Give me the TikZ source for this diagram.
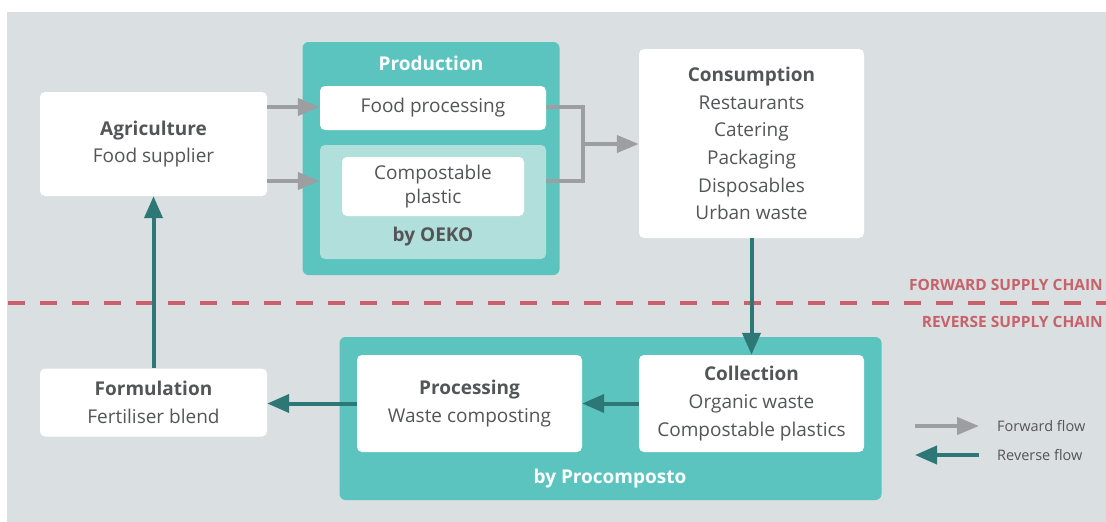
\documentclass[tikz,border=0pt]{standalone}
\usepackage{fontspec}
\setmainfont{Open Sans}
\usetikzlibrary{arrows.meta,positioning}
\definecolor{bggray}{HTML}{DADFE1}
\definecolor{tealmid}{HTML}{5BC4BF}
\definecolor{teallight}{HTML}{B1DFDC}
\definecolor{tealdark}{HTML}{2E7777}
\definecolor{arrgray}{HTML}{9C9EA1}
\definecolor{chainred}{HTML}{C8626A}
\definecolor{txtgray}{HTML}{545557}
\tikzset{
  card/.style={fill=white, rounded corners=5pt, align=center, text=txtgray, inner sep=0pt,
    font=\fontsize{19}{27.6}\selectfont},
  tealbox/.style={fill=tealmid, rounded corners=6pt, inner sep=0pt},
  boxtitle/.style={text=white, font=\fontsize{19}{22}\selectfont\bfseries},
  fwd/.style={draw=arrgray, line width=4pt, -{Triangle[length=22pt,width=17pt]}},
  fwdline/.style={draw=arrgray, line width=4pt},
  rev/.style={draw=tealdark, line width=4pt, -{Triangle[length=22pt,width=18pt]}},
  chain/.style={text=chainred, font=\fontsize{15.5}{18}\selectfont\bfseries, anchor=east, inner sep=0pt},
  legtext/.style={text=txtgray, font=\fontsize{14.5}{16}\selectfont, anchor=west, inner sep=0pt},
}

\begin{document}
\begin{tikzpicture}[x=1pt, y=-1pt]
	%%%%% BACKGROUND %%%%%
	\useasboundingbox (0,0) rectangle (1106,522);
	\fill[white] (0,0) rectangle (1106,522);
	\fill[bggray] (7,12) rectangle (1106,522);
	
	%%%%% FORWARD CHAIN %%%%%
	\node[card, minimum width=227pt, minimum height=104pt] (agri) at (153.5,144) {\textbf{Agriculture}\\Food supplier};
	
	\node[tealbox, minimum width=257pt, minimum height=233pt] (prod) at (431,158.5) {};
	\node[boxtitle] (prodtitle) at (431,63) {Production};
	\node[card, minimum width=226pt, minimum height=44pt] (food) at (433,108) {Food processing};
	\node[fill=teallight, rounded corners=5pt, minimum width=226pt, minimum height=114pt, inner sep=0pt] (oeko) at (433,202) {};
	\node[card, minimum width=182pt, minimum height=59pt, font=\fontsize{19}{23.5}\selectfont] (comp) at (433,186.5) {Compostable\\plastic};
	\node[text=txtgray, font=\fontsize{19}{22}\selectfont\bfseries] (oekotitle) at (433,237) {by OEKO};
	
	\node[card, minimum width=225pt, minimum height=189pt] (cons) at (751.5,143.5) {\textbf{Consumption}\\Restaurants\\Catering\\Packaging\\Disposables\\Urban waste};
	
	\coordinate (rowa) at (0,107);
	\coordinate (rowb) at (0,181);
	\coordinate (join) at (583,144);
	\draw[fwd] (agri.east |- rowa) -- (food.west |- rowa);
	\draw[fwd] (agri.east |- rowb) -- (oeko.west |- rowb);
	\draw[fwdline] (food.east |- rowa) -| (join);
	\draw[fwdline] (oeko.east |- rowb) -| (join);
	\draw[fwd] (join) -- (cons.west |- join);
	
	%%%%% DIVIDER %%%%%
	\draw[chainred, line width=4pt, dash pattern=on 17pt off 15pt] (8,303) -- (1106,303);
	\node[chain] (fwdlabel) at (1103,285) {FORWARD SUPPLY CHAIN};
	\node[chain] (revlabel) at (1103,322) {REVERSE SUPPLY CHAIN};
	
	%%%%% REVERSE CHAIN %%%%%
	\node[tealbox, minimum width=542pt, minimum height=163pt] (proco) at (610.5,418.5) {};
	\node[boxtitle] (procotitle) at (610,479) {by Procomposto};
	\node[card, minimum width=225pt, minimum height=97pt] (proc) at (469.5,403.5) {\textbf{Processing}\\Waste composting};
	\node[card, minimum width=225pt, minimum height=97pt] (coll) at (751.5,403.5) {\textbf{Collection}\\Organic waste\\Compostable plastics};
	\node[card, minimum width=227pt, minimum height=68pt] (form) at (153.5,402.5) {\textbf{Formulation}\\Fertiliser blend};
	
	\draw[rev] (cons.south) -- (coll.north);
	\draw[rev] (coll.west) -- (proc.east);
	\draw[rev] (proc.west) -- (proc.west -| form.east);
	\draw[rev] (form.north) -- (agri.south);
	
	%%%%% LEGEND %%%%%
	\node[legtext] (legfwd) at (997,426) {Forward flow};
	\node[legtext] (legrev) at (997,455) {Reverse flow};
	\coordinate (legfa) at (915,426);
	\coordinate (legra) at (979,455);
	\draw[fwd] (legfa) -- ([xshift=-18pt]legfwd.west);
	\draw[rev] (legra) -- ([xshift=-82pt]legrev.west);
\end{tikzpicture}
\end{document}
